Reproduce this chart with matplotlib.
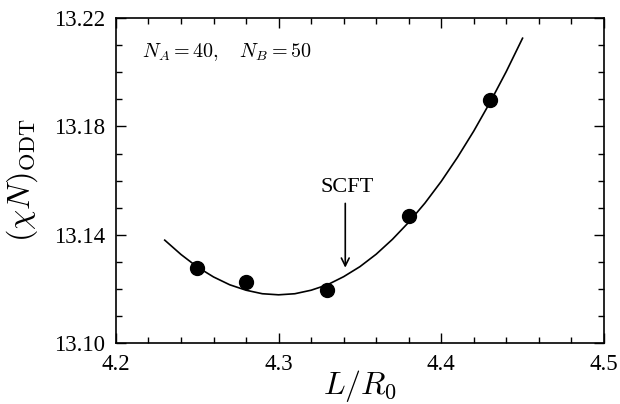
import matplotlib
matplotlib.use("Agg")
import matplotlib.pyplot as plt
from matplotlib.ticker import MultipleLocator, FixedLocator

plt.rcParams['font.family'] = 'Liberation Serif'
plt.rcParams['mathtext.fontset'] = 'cm'

# simulation points
L_sim = [4.25, 4.28, 4.33, 4.38, 4.43]
chiN_sim = [13.1276, 13.1224, 13.1194, 13.1470, 13.1898]

# SCFT curve
L_scft = [4.23, 4.24, 4.25, 4.26, 4.27, 4.28, 4.29, 4.30, 4.31, 4.32, 4.33,
          4.34, 4.35, 4.36, 4.37, 4.38, 4.39, 4.40, 4.41, 4.42, 4.43, 4.44, 4.45]
chiN_scft = [13.1380, 13.1327, 13.1281, 13.1244, 13.1215, 13.1195, 13.1182,
             13.1178, 13.1182, 13.1195, 13.1215, 13.1245, 13.1282, 13.1328,
             13.1383, 13.1446, 13.1517, 13.1597, 13.1686, 13.1783, 13.1889,
             13.2003, 13.2126]

xticks = [4.2, 4.3, 4.4, 4.5]
yticks = [13.10, 13.14, 13.18, 13.22]

fig = plt.figure(figsize=(6.2, 4.04), dpi=100)
ax = fig.add_axes([0.187, 0.151, 0.787, 0.804])

ax.plot(L_scft, chiN_scft, color='black', lw=1.2)
ax.plot(L_sim, chiN_sim, 'o', color='black', ms=10)

ax.annotate('', xy=(4.341, 13.1268), xytext=(4.341, 13.1526),
            arrowprops=dict(arrowstyle='->', color='black', lw=1.2,
                            mutation_scale=14))
ax.text(4.342, 13.1575, 'SCFT', ha='center', va='center', fontsize=16)
ax.text(4.216, 13.2075, r'$N_A = 40,\quad N_B = 50$', ha='left', va='center',
        fontsize=14.5)

ax.set_xlim(4.2, 4.5)
ax.set_ylim(13.10, 13.22)
ax.xaxis.set_major_locator(FixedLocator(xticks))
ax.xaxis.set_minor_locator(MultipleLocator(0.02))
ax.yaxis.set_major_locator(FixedLocator(yticks))
ax.yaxis.set_minor_locator(MultipleLocator(0.01))
ax.set_xticklabels([f'{v:.1f}' for v in xticks])
ax.set_yticklabels([f'{v:.2f}' for v in yticks])
ax.tick_params(which='both', direction='in', top=True, right=True,
               labelsize=16.5, width=1)
ax.tick_params(which='major', length=7, pad=8)
ax.tick_params(which='minor', length=4)
for s in ax.spines.values():
    s.set_linewidth(1.2)

ax.set_xlabel(r'$L/R_0$', fontsize=23, labelpad=-5)
ax.set_ylabel(r'$(\chi N)_{\rm ODT}$', fontsize=23, labelpad=10)

fig.savefig('out.png', dpi=100)
